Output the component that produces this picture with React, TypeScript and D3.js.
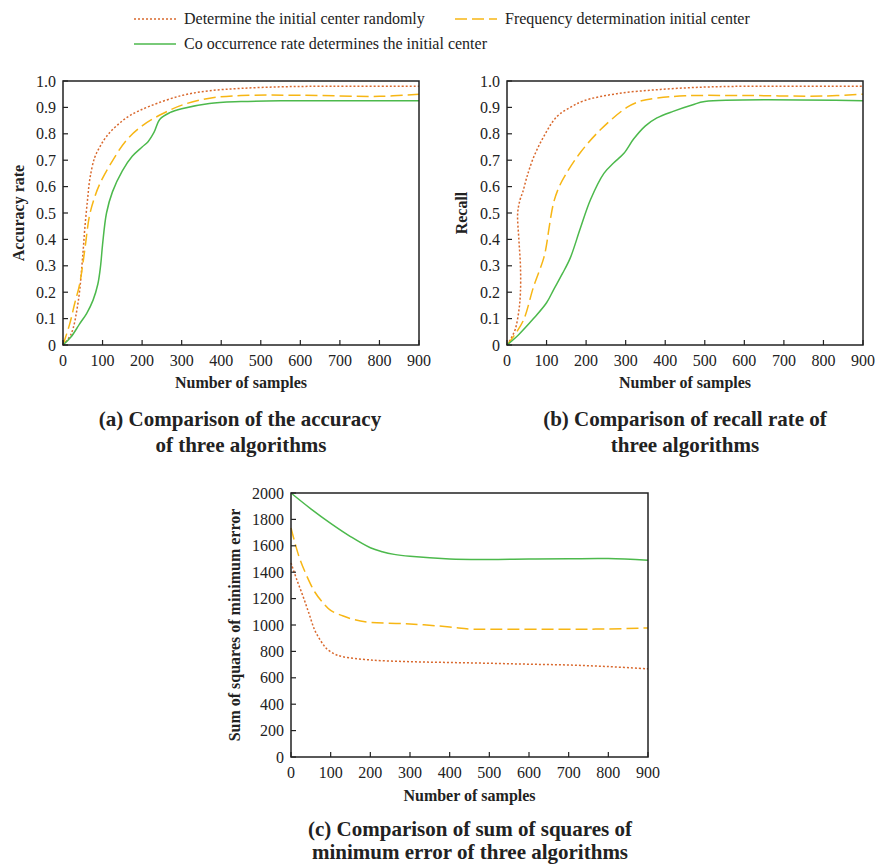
import React, { useEffect } from "react";
import * as d3 from "d3";

type Pt = [number, number];

// legend
const seriesNames = [
  "Determine the initial center randomly",
  "Frequency determination initial center",
  "Co occurrence rate determines the initial center",
];
const seriesColors = ["#d9692e", "#f7b614", "#4cb94c"];
const seriesDash = ["2,2", "12,5", null];

// (a) accuracy
const accRandom: Pt[] = [[0,0],[20,0.04],[38,0.16],[50,0.34],[55,0.44],[62,0.55],[68,0.63],[80,0.71],[93,0.75],[110,0.79],[135,0.83],[170,0.87],[220,0.905],[300,0.945],[370,0.963],[450,0.972],[550,0.978],[650,0.98],[900,0.98]];
const accFreq: Pt[] = [[0,0],[17,0.08],[30,0.16],[42,0.23],[55,0.36],[67,0.49],[80,0.56],[93,0.61],[118,0.68],[160,0.775],[200,0.83],[250,0.875],[303,0.91],[371,0.935],[450,0.945],[600,0.946],[800,0.942],[900,0.95]];
const accCo: Pt[] = [[0,0],[20,0.03],[42,0.08],[60,0.12],[76,0.17],[88,0.23],[95,0.3],[100,0.38],[110,0.5],[125,0.58],[150,0.66],[175,0.715],[200,0.75],[215,0.77],[230,0.805],[245,0.855],[270,0.88],[300,0.895],[370,0.915],[450,0.922],[550,0.925],[900,0.925]];

// (b) recall
const recRandom: Pt[] = [[0,0],[12,0.03],[21,0.06],[30,0.13],[34,0.2],[34,0.3],[30,0.4],[27,0.5],[33,0.55],[40,0.58],[50,0.635],[67,0.71],[93,0.79],[126,0.865],[160,0.9],[194,0.925],[278,0.952],[388,0.968],[500,0.977],[600,0.98],[900,0.98]];
const recFreq: Pt[] = [[0,0],[20,0.04],[42,0.095],[67,0.22],[93,0.33],[100,0.38],[106,0.44],[118,0.54],[132,0.6],[150,0.65],[186,0.73],[236,0.815],[303,0.9],[340,0.925],[379,0.935],[450,0.944],[600,0.945],[800,0.943],[900,0.95]];
const recCo: Pt[] = [[0,0],[30,0.04],[67,0.1],[100,0.16],[118,0.21],[140,0.27],[160,0.33],[185,0.44],[211,0.55],[245,0.65],[270,0.69],[295,0.725],[320,0.78],[350,0.83],[379,0.86],[420,0.885],[470,0.91],[500,0.922],[900,0.925]];

// (c) sum of squares of minimum error
const sseRandom: Pt[] = [[0,1470],[15,1340],[30,1220],[45,1090],[60,960],[75,880],[90,820],[110,780],[130,760],[200,735],[300,722],[400,716],[500,710],[600,703],[700,697],[800,685],[900,668]];
const sseFreq: Pt[] = [[0,1735],[20,1520],[40,1370],[60,1250],[80,1170],[100,1110],[130,1070],[160,1040],[200,1020],[300,1008],[400,985],[450,970],[500,968],[700,968],[800,970],[900,978]];
const sseCo: Pt[] = [[0,2000],[50,1880],[100,1770],[150,1670],[200,1585],[230,1555],[260,1535],[300,1520],[400,1500],[500,1497],[600,1500],[700,1502],[800,1503],[900,1490]];

const xTicks = [0, 100, 200, 300, 400, 500, 600, 700, 800, 900];
const rateTicks = [0, 0.1, 0.2, 0.3, 0.4, 0.5, 0.6, 0.7, 0.8, 0.9, 1.0];
const sseTicks = [0, 200, 400, 600, 800, 1000, 1200, 1400, 1600, 1800, 2000];

const FONT = "'Liberation Serif', 'Times New Roman', serif";

const rateFmt = (d: number) => (d === 0 ? "0" : d3.format(".1f")(d));
const intFmt = (d: number) => String(d);

function Panel({ left, right, top, bottom, yMax, yTicks, yFmt, yTitle, yTitleX, series, xTitleY }: any) {
  const x = d3.scaleLinear().domain([0, 900]).range([left, right]);
  const y = d3.scaleLinear().domain([0, yMax]).range([bottom, top]);
  const line = d3.line<Pt>().x(d => x(d[0])).y(d => y(d[1])).curve(d3.curveCatmullRom.alpha(0.5));
  const tick = 5;
  return (
    <g>
      {series.map((s: Pt[], i: number) => (
        <path key={i} d={line(s) || ""} fill="none" stroke={seriesColors[i]} strokeWidth={1.5}
          strokeDasharray={seriesDash[i] || undefined} />
      ))}
      <rect x={left} y={top} width={right - left} height={bottom - top} fill="none" stroke="#222" strokeWidth={1.5} />
      {xTicks.map(t => (
        <g key={"x" + t}>
          <line x1={x(t)} x2={x(t)} y1={bottom} y2={bottom - tick} stroke="#222" strokeWidth={1.2} />
          <text x={x(t)} y={bottom + 21} textAnchor="middle" fontSize={16} fill="#222">{t}</text>
        </g>
      ))}
      {yTicks.map((t: number) => (
        <g key={"y" + t}>
          <line x1={left} x2={left + tick} y1={y(t)} y2={y(t)} stroke="#222" strokeWidth={1.2} />
          <text x={left - 7} y={y(t)} dy="0.35em" textAnchor="end" fontSize={16} fill="#222">{yFmt(t)}</text>
        </g>
      ))}
      <text x={(left + right) / 2} y={xTitleY} textAnchor="middle" fontSize={16} fontWeight="bold" fill="#222">Number of samples</text>
      <text transform={`translate(${yTitleX},${(top + bottom) / 2}) rotate(-90)`} textAnchor="middle" dy="0.35em"
        fontSize={16} fontWeight="bold" fill="#222">{yTitle}</text>
    </g>
  );
}

export default function App() {
  useEffect(() => {
    document.body.style.margin = "0";
  }, []);

  const legendItems = [
    { x: 134, y: 19 },
    { x: 455, y: 19 },
    { x: 134, y: 44 },
  ];

  return (
    <svg width={875} height={865} fontFamily={FONT} style={{ display: "block", background: "#fff" }}>
      {legendItems.map((p, i) => (
        <g key={i}>
          <line x1={p.x} x2={p.x + 42} y1={p.y} y2={p.y} stroke={seriesColors[i]} strokeWidth={1.5}
            strokeDasharray={seriesDash[i] || undefined} />
          <text x={p.x + 50} y={p.y} dy="0.33em" fontSize={16} fill="#222">{seriesNames[i]}</text>
        </g>
      ))}

      <Panel left={63} right={419} top={81} bottom={345} yMax={1} yTicks={rateTicks} yFmt={rateFmt}
        yTitle="Accuracy rate" yTitleX={18} xTitleY={388} series={[accRandom, accFreq, accCo]} />
      <Panel left={507} right={863} top={81} bottom={345} yMax={1} yTicks={rateTicks} yFmt={rateFmt}
        yTitle="Recall" yTitleX={461} xTitleY={388} series={[recRandom, recFreq, recCo]} />
      <Panel left={291} right={648} top={493} bottom={757} yMax={2000} yTicks={sseTicks} yFmt={intFmt}
        yTitle="Sum of squares of minimum error" yTitleX={234} xTitleY={801} series={[sseRandom, sseFreq, sseCo]} />

      <g fontSize={21} fontWeight="bold" fill="#222" textAnchor="middle">
        <text x={240} y={426}>(a) Comparison of the accuracy</text>
        <text x={241} y={452}>of three algorithms</text>
        <text x={685} y={426}>(b) Comparison of recall rate of</text>
        <text x={685} y={452}>three algorithms</text>
        <text x={470} y={836}>(c) Comparison of sum of squares of</text>
        <text x={470} y={859}>minimum error of three algorithms</text>
      </g>
    </svg>
  );
}
